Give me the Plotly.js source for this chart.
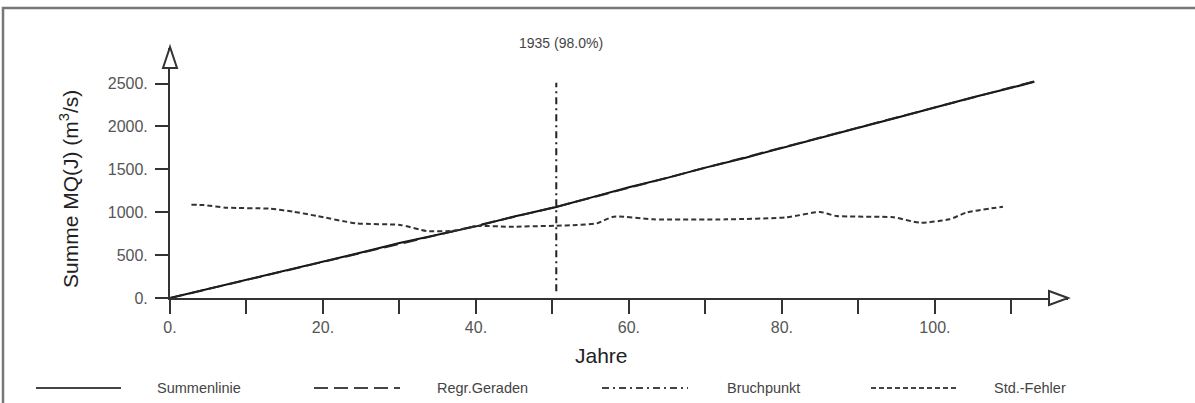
<!DOCTYPE html>
<html>
<head>
<meta charset="utf-8">
<script src="https://cdn.plot.ly/plotly-3.0.1.min.js"></script>
<style>html,body{margin:0;padding:0;background:#fff;}#chart{width:1195px;height:403px;}</style>
</head>
<body>
<div id="chart"></div>
<script>
// Summenlinie (cumulative sum of annual mean discharge)
const sumYears = [0, 5, 10, 15, 20, 25, 30, 35, 40, 45, 50.5, 55, 60, 65, 70, 75, 80, 85, 90, 95, 100, 105, 110, 113];
const sumValues = [0, 105, 210, 315, 425, 530, 640, 735, 835, 950, 1060, 1170, 1290, 1400, 1520, 1630, 1750, 1870, 1985, 2100, 2220, 2340, 2450, 2520];
// Regression lines (before / after break)
const regr1Years = [0, 50.5];
const regr1Values = [0, 1062];
const regr2Years = [50.5, 113];
const regr2Values = [1062, 2525];
// Break point
const breakYear = 50.5;
const breakLabel = "1935 (98.0%)";
const breakValues = [80, 2510];
// Standard error
const seYears = [2.8, 4.4, 7.4, 13.1, 16.1, 19.2, 24.4, 30.1, 33.6, 37.0, 40.1, 44.4, 50.5, 53.2, 55.8, 58.0, 63.2, 72.8, 80.6, 85.0, 87.1, 94.6, 98.0, 101.9, 104.1, 108.9];
const seValues = [1087, 1083, 1053, 1041, 1006, 956, 870, 851, 781, 783, 839, 831, 843, 851, 870, 948, 917, 917, 940, 1002, 956, 940, 878, 917, 995, 1064];
// Axis ticks
const xTickVals = [0, 20, 40, 60, 80, 100];
const xTickText = ["0.", "20.", "40.", "60.", "80.", "100."];
const xMinorStep = 10;
const yTickVals = [0, 500, 1000, 1500, 2000, 2500];
const yTickText = ["0.", "500.", "1000.", "1500.", "2000.", "2500."];
const xTitle = "Jahre";
const yTitle = "Summe MQ(J) (m<sup>3</sup>/s)";
const legendNames = ["Summenlinie", "Regr.Geraden", "Bruchpunkt", "Std.-Fehler"];

const FONT = "Liberation Sans, Arial, sans-serif";
const dashRegr = "14px,6px";
const dashBreak = "7px,4px,2px,4px";
const dashSE = "5px,3px";

const traces = [
  {x: sumYears, y: sumValues, mode: "lines", line: {color: "#111", width: 2}, name: legendNames[0]},
  {x: regr1Years, y: regr1Values, mode: "lines", line: {color: "#222", width: 2, dash: dashRegr}, name: legendNames[1]},
  {x: regr2Years, y: regr2Values, mode: "lines", line: {color: "#222", width: 2, dash: dashRegr}, name: legendNames[1]},
  {x: [breakYear, breakYear], y: breakValues, mode: "lines", line: {color: "#222", width: 2, dash: dashBreak}, name: legendNames[2]},
  {x: seYears, y: seValues, mode: "lines", line: {color: "#333", width: 2, dash: dashSE, shape: "spline", smoothing: 0.6}, name: legendNames[3]}
];

// pixel -> paper helpers for decorations (plot area: x 170..1068, y 48..298)
const px = p => (p - 170) / 898;
const py = p => (298 - p) / 250;

const legendY = py(388);
const legendItems = [
  {x0: 36, x1: 121, dash: "solid", tx: 199},
  {x0: 314, x1: 400, dash: dashRegr, tx: 482},
  {x0: 602, x1: 688, dash: dashBreak, tx: 763},
  {x0: 871, x1: 958, dash: dashSE, tx: 1030}
];

const shapes = [
  // outer frame
  {type: "rect", xref: "paper", yref: "paper", x0: px(3), x1: px(1200), y0: py(408), y1: py(8),
   line: {color: "#777", width: 2.5}, fillcolor: "rgba(0,0,0,0)", layer: "below"},
  // x-axis arrow head
  {type: "path", xref: "paper", yref: "paper",
   path: `M ${px(1068)},${py(298)} L ${px(1049)},${py(291)} L ${px(1049)},${py(305)} Z`,
   fillcolor: "#fff", line: {color: "#333", width: 2}},
  // y-axis arrow head
  {type: "path", xref: "paper", yref: "paper",
   path: `M ${px(170)},${py(47)} L ${px(163)},${py(68)} L ${px(177)},${py(68)} Z`,
   fillcolor: "#fff", line: {color: "#333", width: 2}}
];
legendItems.forEach(it => shapes.push({type: "line", xref: "paper", yref: "paper",
  x0: px(it.x0), x1: px(it.x1), y0: legendY, y1: legendY,
  line: {color: "#444", width: 2, dash: it.dash}}));

const annotations = [
  {text: breakLabel, xref: "paper", yref: "paper", x: px(561), y: py(43), showarrow: false,
   xanchor: "center", yanchor: "middle", font: {family: FONT, size: 14, color: "#444"}},
  {text: xTitle, xref: "paper", yref: "paper", x: px(601), y: py(355), showarrow: false,
   xanchor: "center", yanchor: "middle", font: {family: FONT, size: 21, color: "#222"}},
  {text: yTitle, xref: "paper", yref: "paper", x: px(69), y: py(189), showarrow: false,
   textangle: -90, xanchor: "center", yanchor: "middle", font: {family: FONT, size: 21, color: "#222"}}
];
legendItems.forEach((it, i) => annotations.push({text: legendNames[i], xref: "paper", yref: "paper",
  x: px(it.tx), y: legendY, showarrow: false, xanchor: "center", yanchor: "middle",
  font: {family: FONT, size: 14.5, color: "#444"}}));

const layout = {
  width: 1195, height: 403,
  margin: {l: 170, r: 127, t: 48, b: 105, pad: 0},
  paper_bgcolor: "#fff", plot_bgcolor: "#fff",
  showlegend: false,
  font: {family: FONT, color: "#444"},
  xaxis: {range: [0, 117.4], showline: true, linecolor: "#333", linewidth: 2, zeroline: false, showgrid: false,
          ticks: "outside", ticklen: 14, tickwidth: 2, tickcolor: "#333",
          tickvals: xTickVals, ticktext: xTickText, tickfont: {family: FONT, size: 16, color: "#555"},
          minor: {dtick: xMinorStep, tick0: 0, ticks: "outside", ticklen: 14, tickwidth: 2, tickcolor: "#333", showgrid: false},
          fixedrange: true},
  yaxis: {range: [0, 2914], showline: true, linecolor: "#333", linewidth: 2, zeroline: false, showgrid: false,
          ticks: "outside", ticklen: 13, tickwidth: 2, tickcolor: "#333", ticklabelstandoff: 4,
          tickvals: yTickVals, ticktext: yTickText, tickfont: {family: FONT, size: 16, color: "#555"},
          fixedrange: true},
  shapes: shapes,
  annotations: annotations
};

Plotly.newPlot("chart", traces, layout, {displayModeBar: false, staticPlot: true});
</script>
</body>
</html>
